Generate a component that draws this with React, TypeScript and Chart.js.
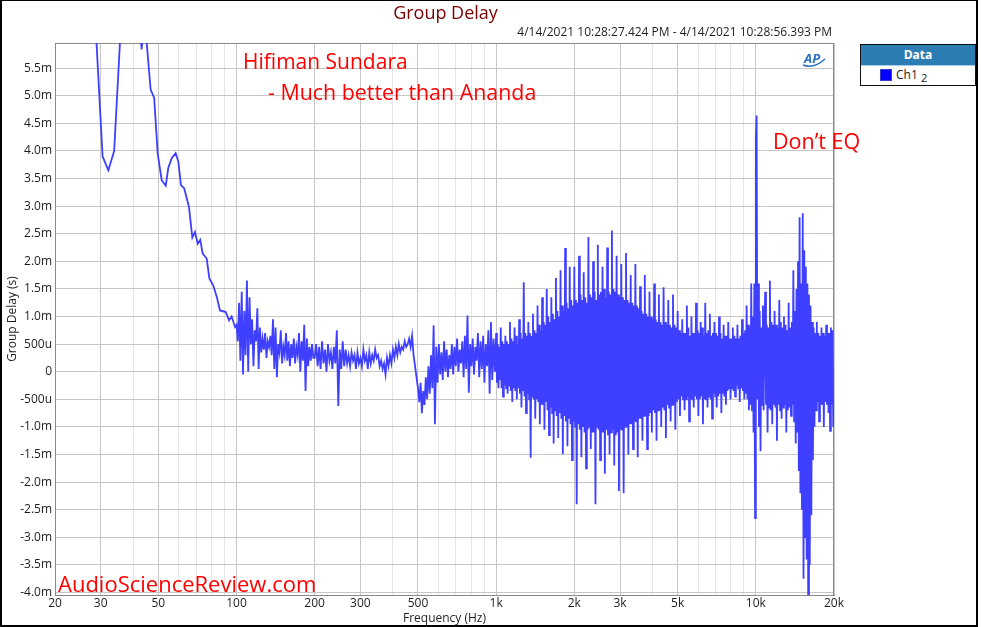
import React, { useEffect, useRef } from "react";
import { Chart, registerables } from "chart.js";

Chart.register(...registerables);

// ---------- data (group delay in ms) ----------
const LOW_FREQ_HZ = [
  28.0, 28.9, 30.5, 32.1, 33.8, 35.8, 37.5, 40.0, 42.3, 43.1, 44.0, 45.1, 46.7,
  48.2, 49.7, 51.5, 53.4, 54.6, 56.3, 58.3, 59.7, 61.1, 62.9, 65.6, 67.6, 69.2,
  70.9, 72.5, 74.1, 76.8, 78.6, 81.4, 83.9, 86.4, 90.9, 93.6, 95.8, 98.7,
];
const LOW_DELAY_MS = [
  8.0, 5.96, 3.9, 3.65, 4.0, 6.2, 7.8, 8.2, 6.5, 5.84, 6.3, 5.96, 5.11,
  4.96, 3.96, 3.47, 3.37, 3.69, 3.87, 3.96, 3.81, 3.38, 3.32, 2.99, 2.43, 2.53,
  2.32, 2.39, 2.14, 2.05, 1.69, 1.56, 1.36, 1.11, 1.08, 0.93, 1.0, 0.81,
];

// bands of noisy measurement bins, edges in Hz
const BAND_EDGES_HZ = [100, 200, 500, 1000, 2000, 5000, 10000, 20000];

const DELAY_100_200 = [
  0.85, 0.55, 1.25, 0.2, 1.45, -0.05, 1.1, 0.3, 1.65, 0.0,
  1.35, 0.5, 0.95, 0.1, 0.75, 0.55, 1.15, 0.05, 0.8, 0.35,
  0.6, 0.4, 0.7, 0.25, 0.55, 0.45, 0.65, 0.3, 0.95, 0.05,
  0.8, -0.1, 0.5, 0.35, 0.75, 0.15, 0.45, 0.3, 0.7, 0.2,
  0.55, 0.1, 0.5, 0.25, 0.6, 0.15, 0.45, 0.3, 0.7, 0.0,
  0.55, 0.2, 0.85, -0.35, 0.6, 0.1, 0.45, 0.2, 0.5, 0.25,
];
const DELAY_200_500 = [
  0.25, 0.5, 0.1, 0.45, 0.05, 0.55, 0.15, 0.4, 0.0, 0.5,
  0.2, 0.35, 0.05, 0.45, 0.15, 0.75, -0.62, 0.4, 0.05, 0.55,
  0.1, 0.4, 0.15, 0.3, 0.1, 0.35, 0.2, 0.3, 0.05, 0.35,
  0.15, 0.25, 0.1, 0.4, 0.2, 0.3, 0.05, 0.35, 0.15, 0.3,
  0.2, 0.4, 0.25, 0.3, 0.1, 0.2, 0.05, 0.15, -0.05, 0.25,
  0.1, 0.3, 0.15, 0.4, 0.25, 0.45, 0.3, 0.5, 0.35, 0.45,
  0.4, 0.55, 0.45, 0.5, 0.6, 0.45, 0.65, 0.3, 0.1, -0.1,
];
const DELAY_500_1K = [
  -0.3, -0.55, -0.2, -0.75, -0.35, -0.6, -0.1, -0.5, 0.1, -0.4,
  0.3, -0.3, 0.84, -0.95, 0.45, -0.2, 0.5, -0.05, 0.35, -0.15,
  0.55, 0.0, 0.4, -0.1, 0.3, 0.05, 0.5, -0.05, 0.45, 0.1,
  0.6, 0.0, 0.4, 0.15, 0.55, -0.1, 0.65, 0.05, 1.02, -0.38,
  0.5, 0.1, 0.6, -0.05, 0.45, 0.2, 0.7, -0.1, 0.55, 0.05,
  0.65, -0.2, 0.5, 0.1, 0.75, -0.4, 0.9, -0.15, 0.6, 0.0,
];
const DELAY_1K_2K = [
  0.7, -0.2, 0.5, -0.3, 0.45, -0.15,
  0.8, -0.3, 0.55, -0.45, 0.5, -0.25,
  0.65, -0.3, 0.55, -0.4, 0.5, -0.25,
  0.9, -0.35, 0.6, -0.55, 0.55, -0.3,
  0.8, -0.35, 0.65, -0.5, 0.5, -0.3,
  0.95, -0.4, 0.7, -0.65, 0.6, -0.35,
  1.62, -0.45, 0.7, -0.75, 0.65, -0.4,
  0.9, -0.5, 0.7, -1.56, 0.65, -0.45,
  1.05, -0.5, 0.75, -0.85, 0.7, -0.5,
  1.2, -0.55, 0.85, -0.95, 0.75, -0.6,
  1.35, -0.6, 0.9, -1.05, 0.85, -0.55,
  1.5, -0.7, 1.0, -1.15, 0.9, -0.65,
  1.35, -0.75, 1.05, -1.3, 0.95, -0.7,
  1.7, -0.8, 1.1, -1.2, 1.0, -0.75,
  1.84, -0.85, 1.2, -1.49, 1.1, -0.8,
  2.24, -0.9, 1.25, -1.35, 1.15, -0.85,
  1.9, -0.95, 1.3, -1.6, 1.2, -0.9,
];
const DELAY_2K_5K = [
  1.9, -1.0, 1.3, -2.4, 1.25, -0.95,
  2.1, -1.05, 1.4, -1.55, 1.3, -1.0,
  1.8, -1.1, 1.35, -1.75, 1.25, -1.05,
  2.44, -1.0, 1.4, -1.4, 1.35, -1.1,
  2.0, -1.1, 1.45, -2.4, 1.3, -1.0,
  2.3, -1.05, 1.4, -1.6, 1.45, -1.1,
  1.9, -1.1, 1.5, -1.85, 1.35, -1.05,
  2.25, -1.15, 1.45, -1.5, 1.4, -1.1,
  2.56, -1.05, 1.5, -1.7, 1.45, -1.15,
  2.1, -1.1, 1.4, -2.16, 1.35, -1.05,
  1.95, -1.05, 1.35, -2.2, 1.3, -1.0,
  2.15, -1.0, 1.3, -1.5, 1.25, -0.95,
  1.75, -0.95, 1.25, -1.4, 1.2, -0.9,
  1.95, -0.9, 1.2, -1.55, 1.15, -0.85,
  1.55, -0.85, 1.1, -1.25, 1.05, -0.8,
  1.75, -0.8, 1.05, -1.4, 1.0, -0.8,
  1.45, -0.75, 1.0, -1.1, 0.95, -0.7,
  1.6, -0.75, 0.95, -1.25, 0.9, -0.7,
  1.4, -0.7, 0.9, -1.0, 0.85, -0.65,
  1.53, -0.7, 0.9, -1.2, 0.85, -0.6,
  1.3, -0.65, 0.85, -0.9, 0.8, -0.6,
  1.4, -0.6, 0.85, -1.05, 0.8, -0.55,
];
const DELAY_5K_10K = [
  1.1, -0.5, 0.75, -0.8, 0.7, -0.45,
  0.95, -0.5, 0.7, -0.7, 0.7, -0.5,
  1.2, -0.45, 0.8, -0.9, 0.65, -0.5,
  1.0, -0.5, 0.7, -0.65, 0.7, -0.45,
  1.25, -0.5, 0.75, -0.8, 0.7, -0.5,
  0.9, -0.45, 0.8, -0.95, 0.65, -0.5,
  1.25, -0.5, 0.7, -0.65, 0.75, -0.45,
  1.05, -0.5, 0.65, -0.85, 0.7, -0.4,
  0.9, -0.45, 0.7, -0.65, 0.65, -0.45,
  1.0, -0.4, 0.7, -0.75, 0.6, -0.4,
  0.85, -0.45, 0.65, -0.6, 0.65, -0.35,
  0.9, -0.3, 0.6, -0.5, 0.6, -0.3,
  0.8, -0.35, 0.65, -0.45, 0.6, -0.25,
  0.85, -0.3, 0.6, -0.55, 0.65, -0.3,
  0.95, -0.35, 0.7, -0.5, 0.75, -0.4,
  1.2, -0.5, 0.85, -0.7, 0.8, -0.6,
  1.6, -0.7, 1.0, -1.1, 1.6, -2.65,
];
const DELAY_10K_20K = [
  4.24, 4.64, -0.5, 1.6, -1.0, 1.1,
  -1.44, 0.8, -0.6, 1.2, -0.7, 0.9,
  1.45, -0.6, 0.85, -1.1, 0.8, -0.65,
  1.65, -0.7, 0.9, -0.95, 0.85, -0.6,
  1.1, -0.65, 0.85, -1.25, 0.8, -0.6,
  1.3, -0.7, 0.9, -0.85, 0.8, -0.65,
  1.0, -0.6, 0.85, -1.1, 0.75, -0.7,
  1.25, -0.65, 0.8, -0.8, 0.9, -0.6,
  1.84, -0.9, 1.1, -1.3, 1.5, -1.1,
  2.0, -1.8, 2.8, -2.2, 1.6, -2.5,
  2.87, -3.75, 2.2, -3.0, 1.9, -3.4,
  1.6, -4.3, 1.4, -3.5, 1.2, -2.6,
  0.9, -1.6, 0.8, -1.0, 0.7, -0.7,
  0.9, -0.55, 0.7, -0.9, 0.65, -0.6,
  0.8, -0.6, 0.7, -1.0, 0.65, -0.55,
  0.85, -0.6, 0.7, -0.75, 0.7, -1.07,
  0.8, -0.6, 0.75, -1.0,
];
const BANDS = [
  DELAY_100_200, DELAY_200_500, DELAY_500_1K, DELAY_1K_2K,
  DELAY_2K_5K, DELAY_5K_10K, DELAY_10K_20K,
];

// axes
const X_MIN = 20;
const X_MAX = 20000;
const X_GRID_HZ = [
  20, 30, 40, 50, 60, 70, 80, 90, 100, 200, 300, 400, 500, 600, 700, 800, 900,
  1000, 2000, 3000, 4000, 5000, 6000, 7000, 8000, 9000, 10000, 20000,
];
const X_LABEL_HZ = [20, 30, 50, 100, 200, 300, 500, 1000, 2000, 3000, 5000, 10000, 20000];
const X_LABEL_TEXT = ["20", "30", "50", "100", "200", "300", "500", "1k", "2k", "3k", "5k", "10k", "20k"];
const Y_MIN = -4.045;
const Y_MAX = 5.955;
const Y_TICKS_MS = [
  -4.0, -3.5, -3.0, -2.5, -2.0, -1.5, -1.0, -0.5, 0, 0.5, 1.0, 1.5, 2.0, 2.5,
  3.0, 3.5, 4.0, 4.5, 5.0, 5.5,
];

const FONT = "'Open Sans', 'Noto Sans', sans-serif";

function buildPoints() {
  const pts: { x: number; y: number }[] = LOW_FREQ_HZ.map((f, i) => ({ x: f, y: LOW_DELAY_MS[i] }));
  BANDS.forEach((vals, b) => {
    const f0 = BAND_EDGES_HZ[b];
    const f1 = BAND_EDGES_HZ[b + 1];
    vals.forEach((v, i) => {
      pts.push({ x: f0 * Math.pow(f1 / f0, i / vals.length), y: v });
    });
  });
  return pts;
}

function yLabel(value: number) {
  const v = Math.round(value * 10) / 10;
  if (v === 0) return "0";
  if (Math.abs(v) < 1) return `${Math.round(v * 1000)}u`;
  return `${v.toFixed(1)}m`;
}

const framePlugin = {
  id: "frame",
  beforeDatasetsDraw(chart: any) {
    const { ctx, chartArea } = chart;
    ctx.save();
    ctx.strokeStyle = "#8a8a8a";
    ctx.lineWidth = 1;
    ctx.strokeRect(chartArea.left + 0.5, chartArea.top + 0.5, chartArea.right - chartArea.left - 1, chartArea.bottom - chartArea.top);
    ctx.restore();
  },
};

export default function App() {
  const canvasRef = useRef<HTMLCanvasElement | null>(null);

  useEffect(() => {
    document.body.style.margin = "0";
    const canvas = canvasRef.current;
    if (!canvas) return;
    const chart = new Chart(canvas, {
      type: "line",
      data: {
        datasets: [
          {
            label: "Ch1",
            data: buildPoints(),
            borderColor: "#3f3fff",
            borderWidth: 1.8,
            pointRadius: 0,
            tension: 0,
            fill: false,
            clip: 0,
          },
        ],
      },
      options: {
        animation: false,
        responsive: false,
        maintainAspectRatio: false,
        events: [],
        layout: { padding: { left: 0, top: 43, right: 147, bottom: 0 } },
        plugins: { legend: { display: false }, tooltip: { enabled: false } },
        scales: {
          x: {
            type: "logarithmic",
            min: X_MIN,
            max: X_MAX,
            afterBuildTicks: (s: any) => {
              s.ticks = X_GRID_HZ.map((v) => ({ value: v }));
            },
            afterFit: (s: any) => {
              s.height = 32;
            },
            ticks: {
              autoSkip: false,
              maxRotation: 0,
              minRotation: 0,
              padding: 1,
              color: "#1e1e1e",
              font: { family: FONT, size: 12 },
              callback: (v: any) => {
                const i = X_LABEL_HZ.indexOf(Number(v));
                return i >= 0 ? X_LABEL_TEXT[i] : "";
              },
            },
            grid: {
              drawTicks: false,
              lineWidth: 1,
              color: (ctx: any) =>
                ctx.tick && X_LABEL_HZ.indexOf(ctx.tick.value) >= 0 ? "#c6c6c6" : "#e6e6e6",
            },
            border: { color: "#8a8a8a", width: 1 },
            title: {
              display: true,
              text: "Frequency (Hz)",
              color: "#1e1e1e",
              font: { family: FONT, size: 12 },
              padding: { top: 0, bottom: 1 },
            },
          },
          y: {
            type: "linear",
            min: Y_MIN,
            max: Y_MAX,
            afterBuildTicks: (s: any) => {
              s.ticks = Y_TICKS_MS.map((v) => ({ value: v }));
            },
            afterFit: (s: any) => {
              s.width = 55;
            },
            ticks: {
              autoSkip: false,
              padding: 3,
              color: "#1e1e1e",
              font: { family: FONT, size: 12 },
              callback: (v: any) => yLabel(Number(v)),
            },
            grid: { drawTicks: false, lineWidth: 1, color: "#c6c6c6" },
            border: { color: "#8a8a8a", width: 1 },
            title: {
              display: true,
              text: "Group Delay (s)",
              color: "#1e1e1e",
              font: { family: FONT, size: 12 },
              padding: { top: 5, bottom: 0 },
            },
          },
        },
      },
      plugins: [framePlugin],
    } as any);
    return () => chart.destroy();
  }, []);

  const abs = (style: React.CSSProperties): React.CSSProperties => ({
    position: "absolute",
    whiteSpace: "nowrap",
    lineHeight: 1,
    fontFamily: FONT,
    ...style,
  });

  return (
    <div style={{ position: "relative", width: 981, height: 627, background: "#fff", overflow: "hidden" }}>
      <canvas ref={canvasRef} width={981} height={627} style={{ position: "absolute", left: 0, top: 0, width: 981, height: 627 }} />
      <div
        style={{
          position: "absolute", left: 0, top: 0, width: 978, height: 627, boxSizing: "border-box",
          borderLeft: "2px solid #000", borderTop: "1px solid #000", borderRight: "2px solid #000", borderBottom: "2px solid #000",
        }}
      />
      <div style={abs({ left: 0, width: 891, top: 3, fontSize: 18, color: "#7a0000", textAlign: "center" })}>Group Delay</div>
      <div style={abs({ right: 149, top: 26, fontSize: 12, color: "#1e1e1e" })}>
        4/14/2021 10:28:27.424 PM - 4/14/2021 10:28:56.393 PM
      </div>
      <div style={abs({ left: 243, top: 51, fontSize: 21, color: "#ff0000" })}>Hifiman Sundara</div>
      <div style={abs({ left: 268, top: 81, fontSize: 21.4, color: "#ff0000" })}>- Much better than Ananda</div>
      <div style={abs({ left: 773, top: 130, fontSize: 21.5, color: "#ff0000" })}>Don’t EQ</div>
      <div style={abs({ left: 58, top: 572, fontSize: 22, color: "#ff0000" })}>AudioScienceReview.com</div>
      <svg style={{ position: "absolute", left: 800, top: 50 }} width={28} height={18}>
        <path d="M3 15 Q 14 19 25 9" stroke="#2a6fc0" strokeWidth={1.5} fill="none" />
        <text x={4} y={13} fontFamily={FONT} fontSize={13} fontWeight={700} fontStyle="italic" fill="#2a6fc0">AP</text>
      </svg>
      <div
        style={{
          position: "absolute", left: 860, top: 44, width: 116, height: 42, boxSizing: "border-box",
          border: "1px solid #111", background: "#fff", fontFamily: FONT,
        }}
      >
        <div style={{ height: 20, background: "#2d7db5", color: "#fff", fontWeight: 700, fontSize: 12, lineHeight: "20px", textAlign: "center", borderBottom: "1px solid #a8cbe6" }}>
          Data
        </div>
        <div style={{ position: "relative", height: 19 }}>
          <div style={{ position: "absolute", left: 19, top: 3, width: 12, height: 12, background: "#0000ff", boxSizing: "border-box", border: "1px solid #3a3acc" }} />
          <div style={{ position: "absolute", left: 35, top: 2, fontSize: 12, lineHeight: 1.2, color: "#1e1e1e" }}>
            Ch1 <span style={{ fontSize: 11, position: "relative", top: 3 }}>2</span>
          </div>
        </div>
      </div>
    </div>
  );
}
